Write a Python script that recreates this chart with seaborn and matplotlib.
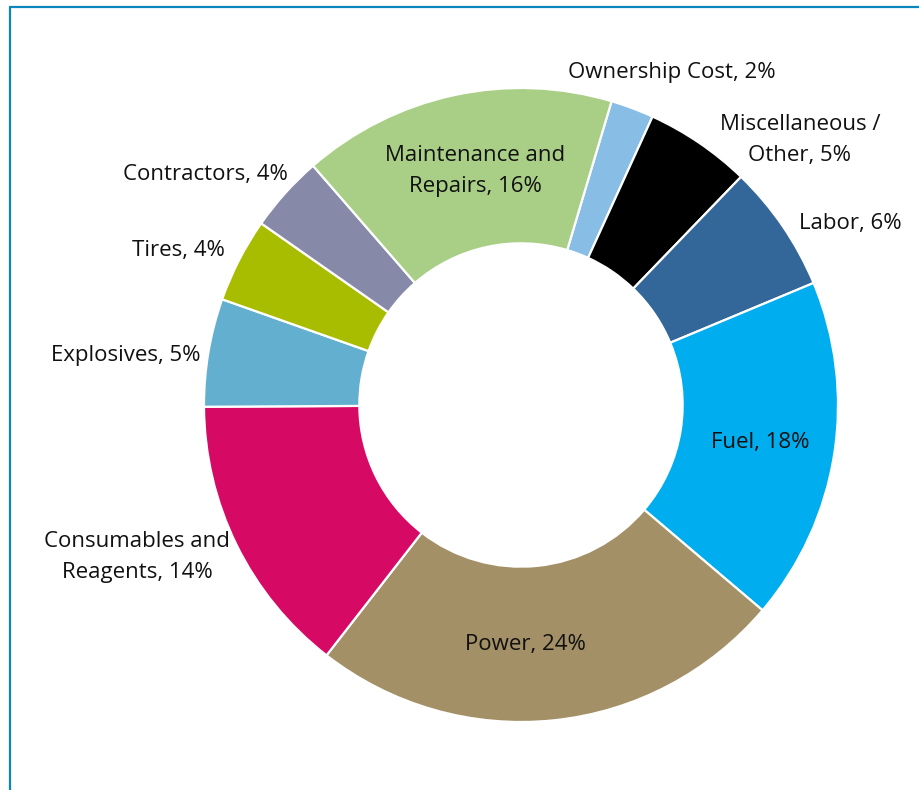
import matplotlib
matplotlib.use("Agg")
import matplotlib.pyplot as plt
import seaborn as sns
from matplotlib.lines import Line2D

sns.set_theme(style="white")
plt.rcParams['font.family'] = ['Open Sans', 'DejaVu Sans']

# ---- data ----
categories = ["Ownership Cost", "Miscellaneous /\nOther", "Labor", "Fuel", "Power",
              "Consumables and\nReagents", "Explosives", "Tires", "Contractors",
              "Maintenance and\nRepairs"]
values = [2.2, 5.4, 6.5, 17.5, 24.3, 14.4, 5.5, 4.3, 3.9, 16.0]
pct_labels = ["2%", "5%", "6%", "18%", "24%", "14%", "5%", "4%", "4%", "16%"]
colors = ["#88BDE6", "#000000", "#336699", "#00ADEF", "#A39066",
          "#D60A64", "#63AFCF", "#A8BD00", "#8689A7", "#A9CF86"]

# label anchor positions (text placement, in units of outer radius)
label_pos = [(0.476, 1.048), (0.880, 0.836), (1.038, 0.574), (0.754, -0.117),
             (0.013, -0.754), (-1.211, -0.479), (-1.246, 0.155), (-1.080, 0.486),
             (-0.997, 0.726), (-0.145, 0.738)]

W, H = 920, 790
fig = plt.figure(figsize=(W / 100, H / 100), dpi=100)
cx, cy, r = 521, 405, 317
ax = fig.add_axes([(cx - r) / W, (H - cy - r) / H, 2 * r / W, 2 * r / H])
ax.pie(values, colors=sns.color_palette(colors), startangle=90 - 16.6,
       counterclock=False, radius=1.0,
       wedgeprops=dict(width=0.49, edgecolor="white", linewidth=1.6))
ax.set_xlim(-1, 1)
ax.set_ylim(-1, 1)
ax.set_aspect("equal")
ax.axis("off")

for cat, pct, (x, y) in zip(categories, pct_labels, label_pos):
    ax.text(x, y, f"{cat}, {pct}", ha="center", va="center", multialignment="center",
            fontsize=16, color="#111111", linespacing=1.65, clip_on=False)

# frame lines (top and left border)
border_color = "#0A86BD"
fig.add_artist(Line2D([10 / W, 10 / W], [0, 1 - 7 / H], transform=fig.transFigure,
                      color=border_color, linewidth=1.6))
fig.add_artist(Line2D([10 / W, 1], [1 - 7 / H, 1 - 7 / H], transform=fig.transFigure,
                      color=border_color, linewidth=1.6))

fig.savefig("out.png", dpi=100, facecolor="white")
